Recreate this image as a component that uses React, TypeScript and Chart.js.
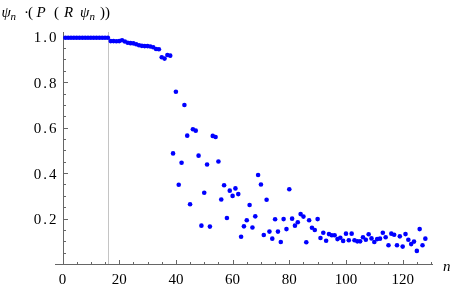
import React, { useEffect, useRef } from "react";
import { Chart, registerables } from "chart.js";

Chart.register(...registerables);

// ---- data ----
const psiOverlap = [
  1, 1, 1, 1, 1, 1, 1, 1, 1, 1, 1, 1, 1, 1, 1, 1,
  0.985, 0.985, 0.984, 0.985, 0.989, 0.983, 0.978, 0.976, 0.975, 0.971, 0.967,
  0.964, 0.963, 0.963, 0.961, 0.958, 0.95, 0.949, 0.914, 0.908, 0.924, 0.921,
  0.491, 0.762, 0.353, 0.45, 0.704, 0.569, 0.267, 0.597, 0.591, 0.481,
  0.173, 0.318, 0.442, 0.169, 0.568, 0.563, 0.455, 0.288, 0.351, 0.207,
  0.327, 0.304, 0.337, 0.312, 0.124, 0.17, 0.197, 0.264, 0.165, 0.214,
  0.396, 0.354, 0.132, 0.287, 0.147, 0.116, 0.201, 0.147, 0.101, 0.202,
  0.158, 0.333, 0.204, 0.173, 0.188, 0.224, 0.213, 0.1, 0.197, 0.164,
  0.154, 0.202, 0.119, 0.142, 0.107, 0.136, 0.131, 0.131, 0.114, 0.12,
  0.106, 0.138, 0.109, 0.138, 0.109, 0.104, 0.104, 0.122, 0.111, 0.135,
  0.117, 0.101, 0.114, 0.116, 0.142, 0.122, 0.087, 0.138, 0.133, 0.087,
  0.126, 0.081, 0.136, 0.111, 0.092, 0.103, 0.062, 0.158, 0.087, 0.116,
];
const nValues = psiOverlap.map((_, i) => i + 1);
const markerN = [16];

const xTickValues = [0, 20, 40, 60, 80, 100, 120];
const xTickLabels = ["0", "20", "40", "60", "80", "100", "120"];
const yTickValues = [0.2, 0.4, 0.6, 0.8, 1.0];
const yTickLabels = ["0.2", "0.4", "0.6", "0.8", "1.0"];
const xMinorTicks = [0, 5, 10, 15, 20, 25, 30, 35, 40, 45, 50, 55, 60, 65, 70, 75, 80, 85, 90, 95, 100, 105, 110, 115, 120, 125, 130];
const yMinorTicks = [0, 0.05, 0.1, 0.15, 0.2, 0.25, 0.3, 0.35, 0.4, 0.45, 0.5, 0.55, 0.6, 0.65, 0.7, 0.75, 0.8, 0.85, 0.9, 0.95, 1.0];
const xAxisTitle = "n";
// y-axis title pieces: text, italic, subscript
const yTitleTexts = ["ψ", "n", "·", "(", "P", "(", "R", "ψ", "n", "))"];
const yTitleItalic = [true, true, false, false, true, false, true, true, true, false];
const yTitleSub = [false, true, false, false, false, false, false, false, true, false];

// ---- layout (styles only) ----
const yTitleX = [1.5, 10.5, 24, 28, 36.5, 54, 64, 80, 89.5, 100];
const FONT = '"Liberation Serif", "Times New Roman", serif';

const mmaAxes = {
  id: "mmaAxes",
  beforeDatasetsDraw(chart: any) {
    const { ctx, chartArea, scales } = chart;
    const { left, right, top, bottom } = chartArea;
    const xs = scales.x;
    const ys = scales.y;
    ctx.save();
    // vertical marker line
    ctx.strokeStyle = "#c4c4c4";
    ctx.lineWidth = 1;
    for (const m of markerN) {
      const px = Math.round(xs.getPixelForValue(m)) + 0.5;
      ctx.beginPath();
      ctx.moveTo(px, top);
      ctx.lineTo(px, bottom);
      ctx.stroke();
    }
    // axes
    const x0 = Math.round(xs.getPixelForValue(0)) + 0.5;
    const y0 = Math.round(ys.getPixelForValue(0)) - 0.5;
    ctx.strokeStyle = "#666";
    ctx.beginPath();
    ctx.moveTo(left, y0);
    ctx.lineTo(right, y0);
    ctx.moveTo(x0, top);
    ctx.lineTo(x0, y0);
    ctx.stroke();
    // ticks
    ctx.beginPath();
    for (const v of xMinorTicks) {
      const px = Math.round(xs.getPixelForValue(v)) + 0.5;
      const len = v % 20 === 0 ? 4.5 : 2.5;
      ctx.moveTo(px, y0);
      ctx.lineTo(px, y0 - len);
    }
    for (const v of yMinorTicks) {
      const py = Math.round(ys.getPixelForValue(v)) - 0.5;
      const major = Math.abs(v * 5 - Math.round(v * 5)) < 1e-6;
      const len = major ? 4.5 : 2.5;
      ctx.moveTo(x0, py);
      ctx.lineTo(x0 + len, py);
    }
    ctx.stroke();
    // tick labels
    ctx.fillStyle = "#000";
    ctx.font = `15px ${FONT}`;
    ctx.textAlign = "center";
    ctx.textBaseline = "middle";
    xTickValues.forEach((v, i) => {
      ctx.fillText(xTickLabels[i], xs.getPixelForValue(v), 280.5);
    });
    ctx.textAlign = "right";
    (ctx as any).letterSpacing = "2px";
    yTickValues.forEach((v, i) => {
      ctx.fillText(yTickLabels[i], 58.5, ys.getPixelForValue(v) + 0.5);
    });
    (ctx as any).letterSpacing = "0px";
    // x axis title
    ctx.textAlign = "left";
    ctx.textBaseline = "alphabetic";
    ctx.font = `italic 15px ${FONT}`;
    ctx.fillText(xAxisTitle, 443, 270.5);
    // y axis title
    yTitleTexts.forEach((t, i) => {
      const sub = yTitleSub[i];
      ctx.font = `${yTitleItalic[i] ? "italic " : ""}${sub ? 11 : 15}px ${FONT}`;
      ctx.fillText(t, yTitleX[i], sub ? 19.5 : 16.5);
    });
    ctx.restore();
  },
};

export default function App() {
  const ref = useRef<HTMLCanvasElement | null>(null);
  useEffect(() => {
    if (!ref.current) return;
    const chart = new Chart(ref.current, {
      type: "scatter",
      data: {
        datasets: [
          {
            data: nValues.map((n, i) => ({ x: n, y: psiOverlap[i] })),
            backgroundColor: "#0000ff",
            borderWidth: 0,
            pointRadius: 2.3,
            pointHoverRadius: 2.3,
            clip: false as any,
          },
        ],
      },
      options: {
        responsive: false,
        animation: false,
        layout: { padding: { left: 55, right: 24, top: 32, bottom: 24 } },
        plugins: { legend: { display: false }, tooltip: { enabled: false } },
        events: [],
        scales: {
          x: { type: "linear", min: -2.65, max: 130.7, display: false },
          y: { type: "linear", min: 0, max: 1.025, display: false },
        },
      },
      plugins: [mmaAxes],
    });
    return () => chart.destroy();
  }, []);
  return (
    <div style={{ position: "absolute", left: 0, top: 0, width: 457, height: 289, background: "#fff" }}>
      <canvas ref={ref} width={457} height={289} style={{ display: "block" }} />
    </div>
  );
}
